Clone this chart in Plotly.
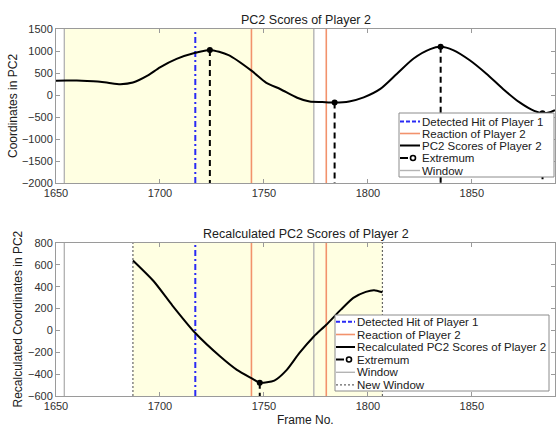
import plotly.graph_objects as go

# ---- data -------------------------------------------------------------
# PC2 scores of player 2 (frame number, score)
frames_pc2 = [1650, 1655, 1660, 1665, 1670, 1675, 1681, 1687, 1694, 1700,
              1708, 1717, 1724, 1733, 1744, 1751, 1758, 1766, 1772, 1778,
              1784, 1791, 1798, 1806, 1814, 1822, 1830, 1835, 1841, 1849,
              1857, 1865, 1873, 1880, 1884, 1888, 1890]
scores_pc2 = [323, 328, 328, 320, 305, 278, 247, 283, 438, 629,
              822, 960, 1025, 905, 553, 283, 131, -62, -150, -160,
              -170, -146, -54, 138, 484, 830, 1044, 1095, 1021, 790,
              484, 138, -169, -362, -415, -385, -345]

# Recalculated PC2 scores inside the new window
frames_recalc = [1687, 1697, 1706, 1717, 1729, 1737, 1744, 1748, 1755,
                 1761, 1767, 1774, 1780, 1787, 1793, 1799, 1803, 1807]
scores_recalc = [640, 450, 228, -24, -239, -361, -437, -478, -459,
                 -361, -208, -55, 52, 190, 298, 353, 368, 349]

# Extrema found on each curve
extrema_frames = [1724, 1784, 1835, 1884]
extrema_scores = [1025, -170, 1095, -415]
extrema_recalc_frames = [1748]
extrema_recalc_scores = [-478]

# Events
hit_frame = 1717                 # detected hit of player 1
reaction_frames = [1744, 1780]   # reactions of player 2
window = [1654, 1774]
new_window = [1687, 1807]

x_range = [1650, 1890]
top_range = [-2000, 1500]
bottom_range = [-600, 800]

top_title = "PC2 Scores of Player 2"
bottom_title = "Recalculated PC2 Scores of Player 2"
top_ylabel = "Coordinates in PC2"
bottom_ylabel = "Recalculated Coordinates in PC2"
xlabel = "Frame No."
top_legend = ["Detected Hit of Player 1", "Reaction of Player 2",
              "PC2 Scores of Player 2", "Extremum", "Window"]
bottom_legend = ["Detected Hit of Player 1", "Reaction of Player 2",
                 "Recalculated PC2 Scores of Player 2", "Extremum",
                 "Window", "New Window"]

# ---- styles -----------------------------------------------------------
FONT = "Liberation Sans, Arial, sans-serif"
BLUE = "#2a2af5"
ORANGE = "#f2926c"
GRAY_WIN = "#b4b4b4"
GRAY_NEW = "#666666"
YELLOW = "#ffffe2"
AXIS = "#9a9a9a"
TXT = "#303030"

W, H = 557, 426
L, R, T, B = 56, 2, 29, 30
PLOT_W = W - L - R
TOP_Y0, TOP_Y1 = 29, 183      # pixel rows of upper axes
BOT_Y0, BOT_Y1 = 243, 396     # pixel rows of lower axes
PLOT_H = BOT_Y1 - TOP_Y0

styles = {
    "hit": dict(color=BLUE, width=2, dash="6px,3px,2px,3px"),
    "reaction": dict(color=ORANGE, width=1.6),
    "curve": dict(color="black", width=2),
    "extremum": dict(color="black", width=2, dash="6px,4px"),
    "window": dict(color=GRAY_WIN, width=1.4),
    "new_window": dict(color=GRAY_NEW, width=1.2, dash="2px,2px"),
}

fig = go.Figure()

# ---- curves and extrema ----------------------------------------------
fig.add_trace(go.Scatter(x=frames_pc2, y=scores_pc2, mode="lines",
                         line=dict(shape="spline", smoothing=0.7, **styles["curve"]),
                         xaxis="x", yaxis="y", showlegend=False))
for fx, fy in zip(extrema_frames, extrema_scores):
    fig.add_trace(go.Scatter(x=[fx, fx], y=[fy, top_range[0]], mode="lines",
                             line=styles["extremum"], xaxis="x", yaxis="y",
                             showlegend=False))
fig.add_trace(go.Scatter(x=extrema_frames, y=extrema_scores, mode="markers",
                         marker=dict(color="black", size=6),
                         xaxis="x", yaxis="y", showlegend=False))

fig.add_trace(go.Scatter(x=frames_recalc, y=scores_recalc, mode="lines",
                         line=dict(shape="spline", smoothing=0.6, **styles["curve"]),
                         xaxis="x2", yaxis="y2", showlegend=False))
for fx, fy in zip(extrema_recalc_frames, extrema_recalc_scores):
    fig.add_trace(go.Scatter(x=[fx, fx], y=[fy, bottom_range[0]], mode="lines",
                             line=styles["extremum"], xaxis="x2", yaxis="y2",
                             showlegend=False))
fig.add_trace(go.Scatter(x=extrema_recalc_frames, y=extrema_recalc_scores,
                         mode="markers", marker=dict(color="black", size=6),
                         xaxis="x2", yaxis="y2", showlegend=False))

# ---- windows and event lines -----------------------------------------
shapes = []


def vline(xref, yref, x, style):
    shapes.append(dict(type="line", xref=xref, yref=yref + " domain",
                       x0=x, x1=x, y0=0, y1=1, line=style, layer="below"))


# upper axes
shapes.append(dict(type="rect", xref="x", yref="y domain", x0=window[0],
                   x1=window[1], y0=0, y1=1, fillcolor=YELLOW,
                   line=dict(width=0), layer="below"))
for wx in window:
    vline("x", "y", wx, styles["window"])
vline("x", "y", hit_frame, styles["hit"])
for rx in reaction_frames:
    vline("x", "y", rx, styles["reaction"])

# lower axes
shapes.append(dict(type="rect", xref="x2", yref="y2 domain", x0=new_window[0],
                   x1=new_window[1], y0=0, y1=1, fillcolor=YELLOW,
                   line=dict(width=0), layer="below"))
for wx in window:
    vline("x2", "y2", wx, styles["window"])
for wx in new_window:
    vline("x2", "y2", wx, styles["new_window"])
vline("x2", "y2", hit_frame, styles["hit"])
for rx in reaction_frames:
    vline("x2", "y2", rx, styles["reaction"])

annotations = []


# ---- hand-drawn legends ------------------------------------------------
def draw_legend(xref, yref, y_top, y_bot, box, rows, line_x, text_x, items):
    def dx(px):
        return (px - L) / PLOT_W

    def dy(py):
        return (y_bot - py) / (y_bot - y_top)

    xr, yr = xref + " domain", yref + " domain"
    shapes.append(dict(type="rect", xref=xr, yref=yr,
                       x0=dx(box[0]), x1=dx(box[1]), y0=dy(box[3]), y1=dy(box[2]),
                       fillcolor="white", line=dict(color="#8c8c8c", width=1),
                       layer="above"))
    for (label, key), py in zip(items, rows):
        if key == "extremum":
            shapes.append(dict(type="line", xref=xr, yref=yr,
                               x0=dx(line_x[0]), x1=dx(line_x[0] + 8),
                               y0=dy(py), y1=dy(py),
                               line=dict(color="black", width=2), layer="above"))
            cx = line_x[0] + 13
            shapes.append(dict(type="circle", xref=xr, yref=yr,
                               xsizemode="pixel", ysizemode="pixel",
                               xanchor=dx(cx), yanchor=dy(py),
                               x0=-2.5, x1=2.5, y0=-2.5, y1=2.5,
                               fillcolor="white",
                               line=dict(color="black", width=1.6),
                               layer="above"))
        else:
            st = dict(styles[key])
            if key == "hit":
                st["dash"] = "4px,2px"
            shapes.append(dict(type="line", xref=xr, yref=yr,
                               x0=dx(line_x[0]), x1=dx(line_x[1]),
                               y0=dy(py), y1=dy(py), line=st, layer="above"))
        annotations.append(dict(xref=xr, yref=yr, x=dx(text_x), y=dy(py),
                                text=label, showarrow=False, xanchor="left",
                                yanchor="middle",
                                font=dict(family=FONT, size=11.5, color="#202020")))


top_keys = ["hit", "reaction", "curve", "extremum", "window"]
bottom_keys = ["hit", "reaction", "curve", "extremum", "window", "new_window"]

draw_legend("x", "y", TOP_Y0, TOP_Y1, box=(399, 554, 113, 177),
            rows=[121.5, 133.5, 145.5, 158, 170.5], line_x=(400, 420),
            text_x=420, items=list(zip(top_legend, top_keys)))
draw_legend("x2", "y2", BOT_Y0, BOT_Y1, box=(335, 549, 315, 391),
            rows=[321.7, 334.5, 347, 359.5, 372.3, 384.8], line_x=(336, 355),
            text_x=355, items=list(zip(bottom_legend, bottom_keys)))

# ---- titles and axis labels ----------------------------------------------
title_font = dict(family=FONT, size=12.5, color="#202020")
label_font = dict(family=FONT, size=12, color="#202020")
annotations += [
    dict(xref="x domain", yref="y domain", x=0.5, y=(TOP_Y1 - 20) / (TOP_Y1 - TOP_Y0),
         text=top_title, showarrow=False, yanchor="middle", font=title_font),
    dict(xref="x2 domain", yref="y2 domain", x=0.5, y=(BOT_Y1 - 234) / (BOT_Y1 - BOT_Y0),
         text=bottom_title, showarrow=False, yanchor="middle", font=title_font),
    dict(xref="x domain", yref="y domain", x=(13 - L) / PLOT_W, y=0.5,
         text=top_ylabel, textangle=-90, showarrow=False,
         xanchor="center", yanchor="middle", font=label_font),
    dict(xref="x2 domain", yref="y2 domain", x=(17 - L) / PLOT_W, y=0.5,
         text=bottom_ylabel, textangle=-90, showarrow=False,
         xanchor="center", yanchor="middle", font=label_font),
    dict(xref="x2 domain", yref="y2 domain", x=0.5, y=(BOT_Y1 - 420) / (BOT_Y1 - BOT_Y0),
         text=xlabel, showarrow=False, yanchor="middle", font=label_font),
]

axis_common = dict(showline=True, linecolor=AXIS, linewidth=1, mirror="ticks",
                   ticks="inside", ticklen=4, tickcolor=AXIS, tickwidth=1,
                   showgrid=False, zeroline=False,
                   tickfont=dict(family=FONT, size=11, color=TXT))

fig.update_layout(
    width=W, height=H,
    margin=dict(l=L, r=R, t=T, b=B),
    paper_bgcolor="white", plot_bgcolor="white",
    showlegend=False,
    xaxis=dict(domain=[0, 1], range=x_range, dtick=50, anchor="y", **axis_common),
    yaxis=dict(domain=[(BOT_Y1 - TOP_Y1) / PLOT_H, 1], range=top_range, dtick=500,
               anchor="x", **axis_common),
    xaxis2=dict(domain=[0, 1], range=x_range, dtick=50, anchor="y2", **axis_common),
    yaxis2=dict(domain=[0, (BOT_Y1 - BOT_Y0) / PLOT_H], range=bottom_range, dtick=200,
                anchor="x2", **axis_common),
    shapes=shapes,
    annotations=annotations,
)

fig.write_html("out.html")
